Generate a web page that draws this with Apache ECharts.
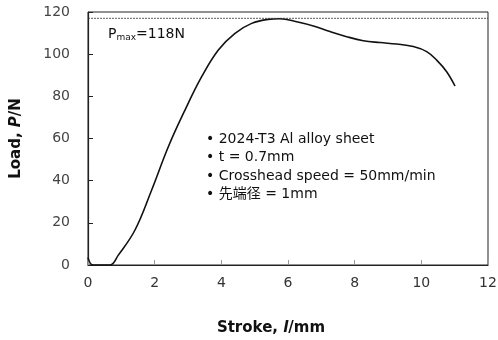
<!DOCTYPE html>
<html><head><meta charset="utf-8">
<script src="https://cdn.jsdelivr.net/npm/echarts@6/dist/echarts.min.js"></script>
<style>html,body{margin:0;padding:0;background:#fff}#c{width:498px;height:340px}</style>
</head><body><div id="c"></div>
<script>
var stroke = [0, 0.15, 0.66, 0.91, 1.41, 1.91, 2.41, 2.91, 3.41, 3.91, 4.41, 4.91, 5.4, 5.76, 6.26, 6.76, 7.26, 7.76, 8.26, 8.76, 9.26, 9.76, 10.16, 10.46, 10.76, 11.01];
var load =   [3.5, 0, 0, 4.7, 16.6, 35.6, 56.1, 73.5, 89.3, 102, 109.9, 114.6, 116.5, 116.8, 115.4, 113.4, 110.7, 108.3, 106.4, 105.5, 104.8, 103.6, 101.2, 97.2, 91.7, 84.9];
var pmaxLine = 117;
var xTicks = [0, 2, 4, 6, 8, 10, 12];
var yTicks = [0, 20, 40, 60, 80, 100, 120];
var notes = ['2024-T3 Al alloy sheet', 't = 0.7mm', 'Crosshead speed = 50mm/min', '先端径 = 1mm'];

var chart = echarts.init(document.getElementById('c'));
var font = '"DejaVu Sans", "Noto Sans CJK JP", sans-serif';
var curve = stroke.map(function (x, i) { return [x, load[i]]; });
var titleRich = {
  b: { fontFamily: font, fontSize: 15, fontWeight: 'bold', color: '#111' },
  i: { fontFamily: font, fontSize: 15, fontWeight: 'bold', fontStyle: 'italic', color: '#111' }
};
chart.setOption({
  animation: false,
  grid: { left: 88, right: 10, top: 12, bottom: 75, show: true, borderColor: '#222', borderWidth: 1,
          containLabel: false, outerBoundsMode: 'none' },
  xAxis: {
    type: 'value', min: xTicks[0], max: xTicks[xTicks.length - 1], interval: 2,
    axisLine: { lineStyle: { color: '#222', width: 1.2 } },
    axisTick: { inside: true, length: 5, lineStyle: { color: '#999' } },
    axisLabel: { color: '#333', fontFamily: font, fontSize: 14, margin: 11 },
    splitLine: { show: false },
    name: '{b|Stroke, }{i|l}{b|/mm}', nameLocation: 'middle', nameGap: 56,
    nameTextStyle: { rich: titleRich, padding: [0, 34, 0, 0] }
  },
  yAxis: {
    type: 'value', min: yTicks[0], max: yTicks[yTicks.length - 1], interval: 20,
    axisLine: { show: true, lineStyle: { color: '#222', width: 1.2 } },
    axisTick: { show: true, inside: true, length: 5, lineStyle: { color: '#222' } },
    axisLabel: { color: '#444', fontFamily: font, fontSize: 14, margin: 18 },
    splitLine: { show: false },
    name: '{b|Load, }{i|P}{b|/N}', nameLocation: 'middle', nameGap: 64, nameRotate: 90,
    nameTextStyle: { rich: titleRich }
  },
  series: [
    { type: 'line', data: curve, smooth: 0.4, symbol: 'none',
      lineStyle: { color: '#111', width: 1.6 } },
    { type: 'line', data: [[xTicks[0], pmaxLine], [xTicks[xTicks.length - 1], pmaxLine]], symbol: 'none',
      lineStyle: { color: '#333', width: 0.8, type: [2, 1] } }
  ],
  graphic: [
    { type: 'text', left: 108, top: 27,
      style: { rich: {
          a: { font: '14px ' + font, fill: '#111' },
          s: { font: '9px ' + font, fill: '#111', padding: [7, 0, 0, 0] } },
        text: '{a|P}{s|max}{a|=118N}' } }
  ].concat(notes.map(function (t, i) {
    return { type: 'text', left: 206, top: 132 + i * 18.5,
      style: { text: '• ' + t, font: '14px ' + font, fill: '#111' } };
  }))
});
</script></body></html>
